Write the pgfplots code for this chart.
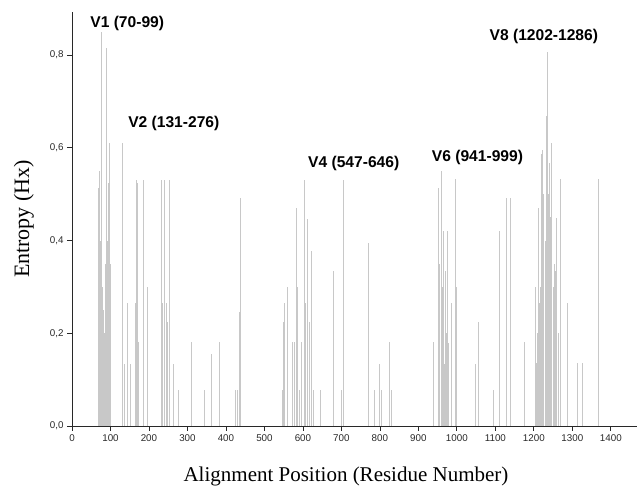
\documentclass[border=0pt]{standalone}
\usepackage{fontspec}
\setmainfont{Liberation Serif}
\setsansfont{Liberation Sans}
\usepackage{pgfplots}
\usepackage{pgfplotstable}
\pgfplotsset{compat=1.18}
\definecolor{barcol}{RGB}{200,200,200}
\definecolor{axcol}{RGB}{40,40,40}

\pgfplotstableread{
pos val
70 0.513
71 0.38
72 0.549
73 0.40
74 0.36
75 0.40
76 0.850
77 0.35
78 0.30
79 0.25
81 0.20
83 0.25
85 0.20
87 0.30
88 0.35
89 0.816
90 0.38
91 0.35
92 0.40
93 0.36
94 0.525
95 0.40
96 0.38
97 0.611
98 0.40
99 0.35
100 0.30
132 0.611
137 0.134
145 0.266
152 0.134
165 0.265
167 0.530
170 0.525
173 0.182
185 0.530
196 0.300
232 0.530
235 0.265
240 0.530
245 0.265
247 0.225
252 0.530
263 0.134
276 0.078
311 0.182
343 0.078
363 0.155
382 0.182
424 0.078
429 0.078
436 0.245
437 0.491
547 0.078
550 0.225
553 0.265
561 0.300
573 0.182
578 0.182
583 0.470
585 0.300
590 0.078
595 0.182
604 0.531
607 0.265
612 0.446
616 0.225
621 0.378
628 0.078
646 0.078
680 0.335
699 0.078
705 0.531
769 0.394
786 0.078
798 0.134
800 0.078
803 0.078
824 0.182
831 0.078
940 0.182
953 0.513
956 0.35
959 0.549
962 0.30
966 0.420
968 0.134
970 0.335
973 0.20
976 0.420
978 0.18
986 0.265
997 0.532
1000 0.300
1047 0.134
1055 0.225
1096 0.078
1110 0.420
1128 0.491
1139 0.491
1175 0.182
1203 0.300
1208 0.136
1210 0.20
1212 0.470
1215 0.265
1217 0.30
1219 0.587
1222 0.596
1224 0.45
1226 0.50
1229 0.35
1231 0.40
1234 0.669
1236 0.807
1238 0.50
1240 0.567
1244 0.45
1247 0.610
1250 0.30
1252 0.25
1254 0.35
1256 0.335
1260 0.449
1263 0.18
1265 0.20
1269 0.532
1286 0.265
1314 0.136
1326 0.136
1368 0.532
}\entropy

\begin{document}
\begin{tikzpicture}
\begin{axis}[
  at={(0,0)}, anchor=south west,
  width=565pt, height=414pt, scale only axis,
  xmin=0, xmax=1468, ymin=0, ymax=0.893,
  axis lines=left,
  axis line style={-, axcol, line width=0.9pt},
  tick align=outside, major tick length=5pt,
  tick style={axcol, line width=0.8pt},
  xtick={0,100,...,1400}, ytick={0,0.2,0.4,0.6,0.8},
  minor tick num=0,
  ticklabel style={font=\fontsize{9.8}{11}\selectfont\sffamily, text=axcol},
  /pgf/number format/assume math mode=true,
  xticklabel style={/pgf/number format/1000 sep={}},
  yticklabel style={/pgf/number format/.cd, fixed, fixed zerofill, precision=1, use comma},
  xlabel={Alignment Position (Residue Number)},
  ylabel={Entropy (Hx)},
  label style={font=\fontsize{21}{24}\selectfont},
  xlabel style={at={(axis description cs:0.485,-0.1329)}, anchor=base},
  ylabel style={at={(axis description cs:-0.085,0.5)}, anchor=center, font=\fontsize{22}{24}\selectfont},
  clip=false,
]
\addplot[ycomb, draw=barcol, line width=0.9pt, mark=none] table[x=pos, y=val] {\entropy};
\begin{scope}[every node/.style={font=\fontsize{15.6}{18}\selectfont\sffamily\bfseries, anchor=base}]
\node at (axis cs:143.5,0.860) {V1 (70-99)};
\node at (axis cs:264.5,0.644) {V2 (131-276)};
\node at (axis cs:732,0.558) {V4 (547-646)};
\node at (axis cs:1053.5,0.570) {V6 (941-999)};
\node at (axis cs:1226,0.8325) {V8 (1202-1286)};
\end{scope}
\end{axis}
\pgfresetboundingbox
\path[use as bounding box] (-72pt,-61pt) rectangle (566pt,426pt);
\end{tikzpicture}
\end{document}
